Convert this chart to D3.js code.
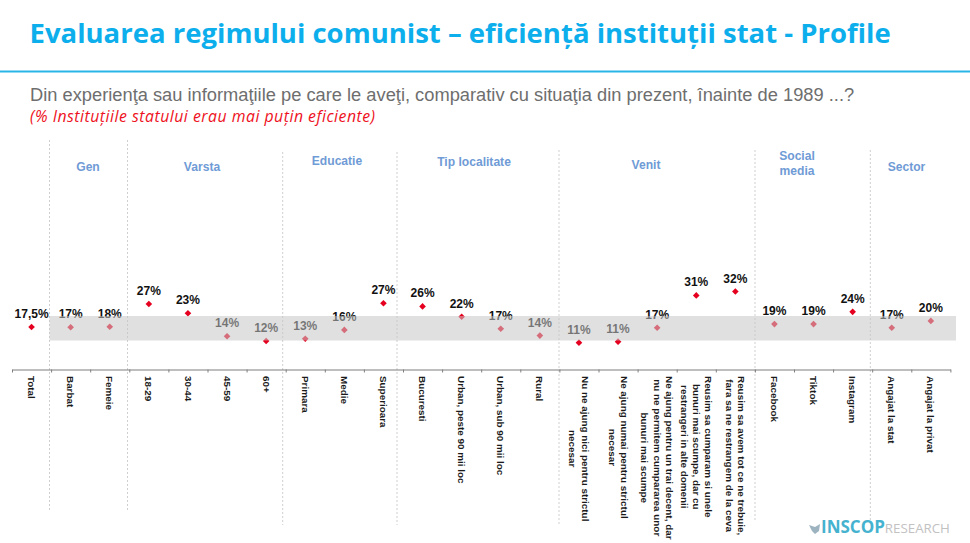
<!DOCTYPE html>
<html><head><meta charset="utf-8">
<script src="https://cdn.jsdelivr.net/npm/d3@7/dist/d3.min.js"></script>
<style>html,body{margin:0;padding:0;background:#fff}svg{display:block}</style>
</head><body><svg id="c" width="970" height="543"></svg>
<script>
const titleText = "Evaluarea regimului comunist – eficiență instituții stat - Profile";
const subtitleText = "Din experienţa sau informaţiile pe care le aveţi, comparativ cu situaţia din prezent, înainte de 1989 ...?";
const noteText = "(% Instituțiile statului erau mai puțin eficiente)";
const categories = [
 ["Total"],["Barbat"],["Femeie"],["18-29"],["30-44"],["45-59"],["60+"],["Primara"],["Medie"],["Superioara"],
 ["Bucuresti"],["Urban, peste 90 mii loc"],["Urban, sub 90 mii loc"],["Rural"],
 ["Nu ne ajung nici pentru strictul","necesar"],["Ne ajung numai pentru strictul","necesar"],
 ["Ne ajung pentru un trai decent, dar","nu ne permitem cumpararea unor","bunuri mai scumpe"],
 ["Reusim sa cumparam si unele","bunuri mai scumpe, dar cu","restrangeri in alte domenii"],
 ["Reusim sa avem tot ce ne trebuie,","fara sa ne restrangem de la ceva"],
 ["Facebook"],["Tiktok"],["Instagram"],["Angajat la stat"],["Angajat la privat"]];
const values = [17.5,17.4,17.6,26.9,23.1,13.7,11.8,12.7,16.3,27.2,25.9,21.7,16.8,14,11.1,11.5,17.2,30.4,32,18.7,18.7,23.7,17.2,20];
const valueLabels = ["17,5%","17%","18%","27%","23%","14%","12%","13%","16%","27%","26%","22%","17%","14%","11%","11%","17%","31%","32%","19%","19%","24%","17%","20%"];
const groupTitles = [["Gen"],["Varsta"],["Educatie"],["Tip localitate"],["Venit"],["Social","media"],["Sector"]];

const svg = d3.select("#c");
const sans = "'Liberation Sans',Arial,sans-serif";

// header
svg.append("text").attr("x",29.5).attr("y",42.5).attr("fill","#0daeec")
  .style("font","700 27.5px 'Open Sans',sans-serif").text(titleText);
svg.append("rect").attr("x",0).attr("y",70.5).attr("width",970).attr("height",2).attr("fill","#2bb5e6");
svg.append("text").attr("x",30).attr("y",100.5).attr("fill","#6e6e6e")
  .style("font","18.3px "+sans).text(subtitleText);
svg.append("text").attr("x",30).attr("y",122).attr("fill","#ee1122")
  .style("font","italic 15.8px 'Open Sans',sans-serif").style("letter-spacing","0.5px").text(noteText);

// scales
const x = d3.scaleBand().domain(d3.range(categories.length)).range([12,950.4]).paddingInner(0).paddingOuter(0);
const y = d3.scaleLinear().domain([17.5,32]).range([327,291.5]);
const axisY = 369.5;

// dividers
const dividers = [[49.5,140,512],[127.5,140,512],[282.7,152,525],[397,152,525],[559,150,525],[755,150,520],[870.3,150,520]];
svg.append("g").selectAll("line").data(dividers).join("line")
  .attr("x1",d=>d[0]).attr("x2",d=>d[0]).attr("y1",d=>d[1]).attr("y2",d=>d[2])
  .attr("stroke","#cfcfcf").attr("stroke-width",1).attr("stroke-dasharray","2,2");

// group titles
const groupPos = [[88,167],[202,167],[337,161],[474,162],[646,165],[797,156],[906.5,167]];
const gt = svg.append("g").selectAll("text").data(groupTitles).join("text")
  .attr("text-anchor","middle").attr("fill","#6f9bd6").style("font","700 12.1px "+sans)
  .attr("transform",(d,i)=>`translate(${groupPos[i][0]},${groupPos[i][1]+4})`);
gt.selectAll("tspan").data(d=>d).join("tspan").attr("x",0).attr("dy",(d,i)=>i?14.5:0).text(d=>d);

// axis
const tickScale = d3.scaleLinear().domain([0,categories.length]).range(x.range());
const axis = svg.append("g").attr("transform",`translate(0,${axisY})`)
  .call(d3.axisBottom(tickScale).tickValues(d3.range(categories.length+1)).tickSize(3).tickSizeOuter(0).tickFormat(""));
axis.selectAll("path,line").attr("stroke","#7f7f7f");
axis.select("path").attr("stroke-width",1.2);

// category labels
const labelTop = 376, lineH = 12.3;
const labels = svg.append("g").selectAll("g").data(categories).join("g")
  .attr("transform",(d,i)=>`translate(${x(i)+x.bandwidth()/2},${labelTop}) rotate(90)`);
labels.each(function(lines){
  const g = d3.select(this);
  const ts = g.selectAll("text").data(lines).join("text")
    .attr("fill","#1a1a1a").style("font","700 9.9px "+sans)
    .attr("y",(d,j)=>(j-(lines.length-1)/2)*lineH+3.4).text(d=>d);
  let m = 0; ts.each(function(){m=Math.max(m,this.getComputedTextLength());});
  ts.attr("text-anchor","middle").attr("x",m/2);
});

// points + value labels
svg.append("g").selectAll("path").data(values).join("path")
  .attr("d",d3.symbol(d3.symbolSquare,22))
  .attr("transform",(d,i)=>`translate(${x(i)+x.bandwidth()/2},${y(d)}) rotate(45)`)
  .attr("fill","#e6001f");
svg.append("g").selectAll("text").data(values).join("text")
  .attr("x",(d,i)=>x(i)+x.bandwidth()/2).attr("y",d=>y(d)-9)
  .attr("text-anchor","middle").attr("fill","#111").style("font","700 12px "+sans)
  .text((d,i)=>valueLabels[i]);

// translucent reference band over the marks
svg.append("rect").attr("x",49.5).attr("y",316).attr("width",906.5).attr("height",24.5)
  .attr("fill","#c6c6c6").attr("fill-opacity",.55);

// logo
const logo = svg.append("g");
logo.append("path").attr("d","M809 525 L815 527 L820 524 L819 531 L815 534 L812 531 Z").attr("fill","#9db4c0");
const lt = logo.append("text").attr("x",821).attr("y",533);
lt.append("tspan").attr("fill","#45b2cf").style("font","700 17px 'Open Sans',sans-serif").text("INSCOP");
lt.append("tspan").attr("fill","#c2c2c2").style("font","400 13.3px 'Open Sans',sans-serif").text("RESEARCH");
</script></body></html>
